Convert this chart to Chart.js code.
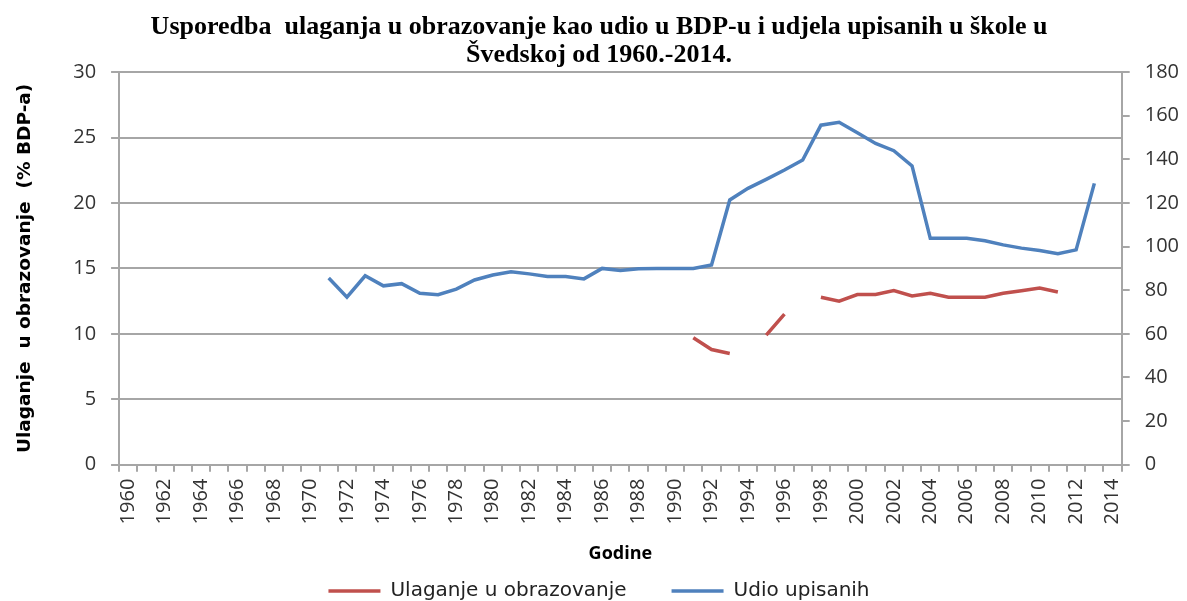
<!DOCTYPE html>
<html>
<head>
<meta charset="utf-8">
<script src="https://cdn.jsdelivr.net/npm/chart.js@4.4.1/dist/chart.umd.min.js"></script>
<style>
  html, body { margin: 0; padding: 0; background: #fff; }
  #wrap { width: 1187px; height: 601px; }
</style>
</head>
<body>
<div id="wrap"><canvas id="chart" width="1187" height="601"></canvas></div>
<script>
// Sweden: education spending (% GDP) vs school enrolment ratio, 1960-2014
const years = [];
for (let y = 1960; y <= 2014; y++) years.push(String(y));

// left axis, % of GDP (null = no data)
const ulaganje = [
  null, null, null, null, null, null, null, null, null, null,   // 1960-69
  null, null, null, null, null, null, null, null, null, null,   // 1970-79
  null, null, null, null, null, null, null, null, null, null,   // 1980-89
  null, 9.7, 8.8, 8.5, null, 9.9, 11.5, null, 12.8, 12.5,       // 1990-99
  13.0, 13.0, 13.3, 12.9, 13.1, 12.8, 12.8, 12.8, 13.1, 13.3,   // 2000-09
  13.5, 13.2, null, null, null                                  // 2010-14
];

// right axis, enrolment share
const udioUpisanih = [
  null, null, null, null, null, null, null, null, null, null,   // 1960-69
  null, 85.6, 76.8, 86.6, 82.0, 83.0, 78.6, 77.9, 80.5, 84.7,   // 1970-79
  87.0, 88.5, 87.5, 86.3, 86.3, 85.2, 90.0, 89.0, 89.8, 90.0,   // 1980-89
  90.0, 90.0, 91.6, 121.4, 126.7, 130.8, 135.1, 139.7, 155.7, 157.0, // 1990-99
  152.2, 147.3, 144.0, 137.0, 103.8, 103.8, 103.8, 102.7, 100.8, 99.3, // 2000-09
  98.2, 96.7, 98.5, 129.0, null                                 // 2010-14
];

const leftTicks = [0, 5, 10, 15, 20, 25, 30];
const rightTicks = [0, 20, 40, 60, 80, 100, 120, 140, 160, 180];

const axisGray = '#a6a6a6';
const tickFont = { family: 'Open Sans', size: 20 };

new Chart(document.getElementById('chart'), {
  type: 'line',
  data: {
    labels: years,
    datasets: [
      {
        label: 'Ulaganje u obrazovanje',
        data: ulaganje,
        yAxisID: 'y',
        borderColor: '#c0504d',
        backgroundColor: '#c0504d',
        borderWidth: 3.5,
        pointRadius: 0,
        spanGaps: false,
        tension: 0
      },
      {
        label: 'Udio upisanih',
        data: udioUpisanih,
        yAxisID: 'y2',
        borderColor: '#4f81bd',
        backgroundColor: '#4f81bd',
        borderWidth: 3.5,
        pointRadius: 0,
        spanGaps: false,
        tension: 0
      }
    ]
  },
  options: {
    responsive: false,
    animation: false,
    layout: { padding: { left: 4, right: -7, top: 4, bottom: -10 } },
    plugins: {
      title: {
        display: true,
        text: ['Usporedba  ulaganja u obrazovanje kao udio u BDP-u i udjela upisanih u škole u',
               'Švedskoj od 1960.-2014.'],
        font: { family: 'Liberation Serif', size: 26, weight: 'bold', lineHeight: 1.08 },
        color: '#000',
        padding: { top: 9, bottom: 3 }
      },
      legend: {
        position: 'bottom',
        labels: {
          usePointStyle: true,
          pointStyle: 'line',
          pointStyleWidth: 52,
          font: { family: 'DejaVu Sans', size: 20 },
          color: '#222',
          padding: 45
        }
      },
      tooltip: { enabled: false }
    },
    scales: {
      x: {
        offset: true,
        grid: { offset: true, drawOnChartArea: false, drawTicks: true, tickLength: 7, color: axisGray, lineWidth: 2 },
        border: { display: true, color: axisGray, width: 2 },
        ticks: {
          autoSkip: false,
          minRotation: 90,
          maxRotation: 90,
          padding: 7,
          font: tickFont,
          color: '#333',
          callback: (v, i) => (i % 2 === 0 ? years[i] : '')
        },
        title: {
          display: true,
          text: 'Godine',
          font: { family: 'Open Sans', size: 18, weight: 'bold' },
          color: '#000',
          padding: { top: 12, bottom: -29 }
        }
      },
      y: {
        position: 'left',
        min: 0,
        max: 30,
        afterBuildTicks: ax => { ax.ticks = leftTicks.map(v => ({ value: v })); },
        grid: { color: axisGray, lineWidth: 2, tickLength: 8 },
        border: { display: true, color: axisGray, width: 2 },
        ticks: { font: tickFont, color: '#333', padding: 15 },
        title: {
          display: true,
          text: 'Ulaganje  u obrazovanje  (% BDP-a)',
          font: { family: 'DejaVu Sans', size: 18.5, weight: 'bold' },
          color: '#000',
          padding: { top: 10, bottom: 22 }
        }
      },
      y2: {
        position: 'right',
        min: 0,
        max: 180,
        afterBuildTicks: ax => { ax.ticks = rightTicks.map(v => ({ value: v })); },
        grid: { drawOnChartArea: false, color: axisGray, lineWidth: 2, tickLength: 8 },
        border: { display: true, color: axisGray, width: 2 },
        ticks: { font: tickFont, color: '#333', padding: 15 }
      }
    }
  }
});
</script>
</body>
</html>
